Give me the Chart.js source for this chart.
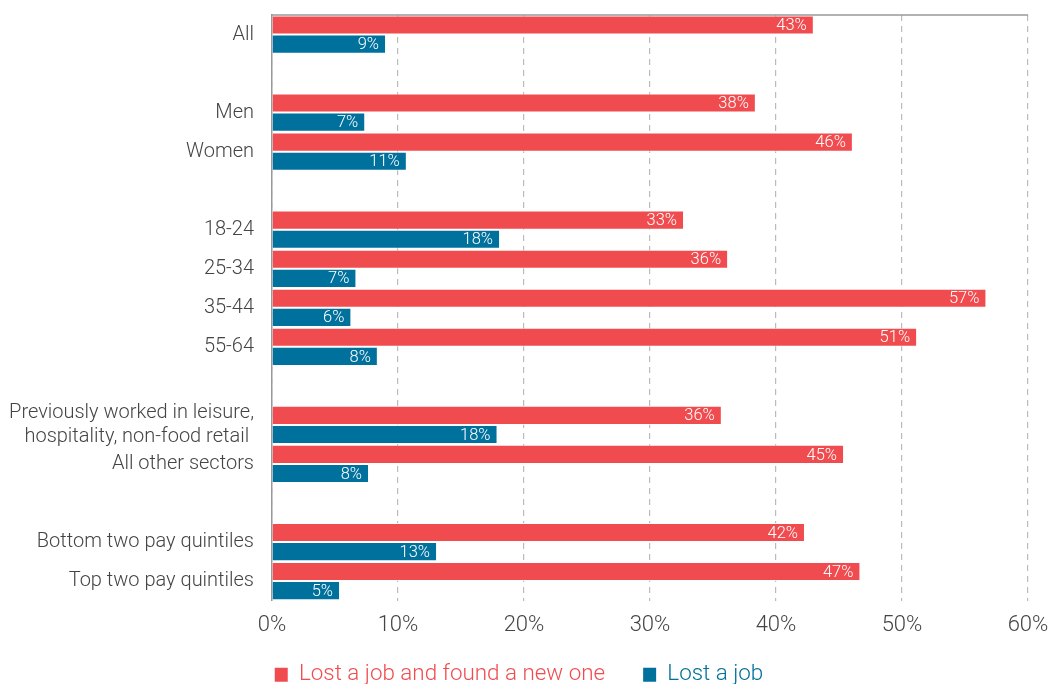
<!DOCTYPE html>
<html>
<head>
<meta charset="utf-8">
<script src="https://cdn.jsdelivr.net/npm/chart.js@4.4.1/dist/chart.umd.min.js"></script>
<style>
  html, body { margin: 0; padding: 0; background: #fff; }
  #wrap { width: 1051px; height: 684px; }
</style>
</head>
<body>
<div id="wrap"><canvas id="jobChart" width="1051" height="684"></canvas></div>
<script>
// Categories (blank strings are the gaps between groups)
const categories = [
  'All', '',
  'Men', 'Women', '',
  '18-24', '25-34', '35-44', '55-64', '',
  ['Previously worked in leisure,', 'hospitality, non-food retail '], 'All other sectors', '',
  'Bottom two pay quintiles', 'Top two pay quintiles'
];

// Share of workers (%)
const lostAndFound = [43, null, 38.4, 46.1, null, 32.7, 36.2, 56.7, 51.2, null, 35.7, 45.4, null, 42.3, 46.7];
const lostJob      = [9.05, null, 7.4, 10.7, null, 18.1, 6.7, 6.3, 8.4, null, 17.9, 7.7, null, 13.1, 5.4];

const xTicks = [0, 10, 20, 30, 40, 50, 60];

const RED = '#f04c4f';
const BLUE = '#00709c';
const FONT = "Roboto, 'Liberation Sans', sans-serif";

// Value labels drawn at the end of each bar
const barLabels = {
  id: 'barLabels',
  afterDatasetsDraw(chart) {
    const ctx = chart.ctx;
    ctx.save();
    ctx.font = '300 16.5px ' + FONT;
    ctx.fillStyle = '#fff';
    ctx.textAlign = 'right';
    ctx.textBaseline = 'middle';
    chart.data.datasets.forEach((ds, i) => {
      chart.getDatasetMeta(i).data.forEach((bar, j) => {
        if (ds.data[j] == null) return;
        ctx.fillText(Math.round(ds.data[j]) + '%', bar.x - 7, bar.y + 1);
      });
    });
    ctx.restore();
  }
};

// Solid line across the top of the plot, and nudge the legend into place
const frame = {
  id: 'frame',
  afterLayout(chart) {
    chart.legend.top -= 15;
    chart.legend.bottom -= 15;
    chart.legend.left += 5;
    chart.legend.right += 5;
  },
  afterDraw(chart) {
    const { ctx, chartArea } = chart;
    ctx.save();
    ctx.strokeStyle = '#999';
    ctx.lineWidth = 1.5;
    ctx.beginPath();
    ctx.moveTo(chartArea.left, chartArea.top);
    ctx.lineTo(chartArea.right, chartArea.top);
    ctx.stroke();
    ctx.restore();
  }
};

new Chart(document.getElementById('jobChart'), {
  type: 'bar',
  data: {
    labels: categories,
    datasets: [
      { label: 'Lost a job and found a new one', data: lostAndFound, backgroundColor: RED,
        borderColor: 'rgba(255,255,255,0.7)', borderWidth: 1 },
      { label: 'Lost a job', data: lostJob, backgroundColor: BLUE,
        borderColor: 'rgba(255,255,255,0.7)', borderWidth: 1 }
    ]
  },
  options: {
    indexAxis: 'y',
    responsive: false,
    animation: false,
    layout: { padding: { top: 15, right: 23, left: 0, bottom: -27 } },
    datasets: { bar: { categoryPercentage: 0.98, barPercentage: 1.0 } },
    scales: {
      x: {
        min: 0, max: 60,
        afterBuildTicks: s => { s.ticks = xTicks.map(v => ({ value: v })); },
        ticks: {
          callback: v => v + '%',
          color: '#444',
          font: { family: FONT, size: 22, weight: '300' },
          padding: 12
        },
        grid: { color: '#bbb', lineWidth: 1.2, drawTicks: false },
        border: { display: false, dash: [6, 5] },
        afterFit: s => { s.height = 40; s.paddingRight = 0; s.paddingLeft = 0; }
      },
      y: {
        ticks: {
          color: '#444',
          font: { family: FONT, size: 20, weight: '300' },
          padding: 10,
          autoSkip: false
        },
        grid: { display: false },
        border: { display: true, color: '#999', width: 1.5 },
        afterFit: s => { s.width = 272; s.paddingTop = 0; s.paddingBottom = 0; }
      }
    },
    plugins: {
      legend: {
        position: 'bottom',
        labels: {
          font: { family: FONT, size: 22.4, weight: '300' },
          boxWidth: 13,
          boxHeight: 14,
          padding: 38,
          generateLabels: chart => chart.data.datasets.map((ds, i) => ({
            text: ds.label,
            fillStyle: ds.backgroundColor,
            strokeStyle: ds.backgroundColor,
            lineWidth: 0,
            fontColor: ds.backgroundColor,
            datasetIndex: i
          }))
        }
      },
      tooltip: { enabled: false }
    }
  },
  plugins: [barLabels, frame]
});
</script>
</body>
</html>
